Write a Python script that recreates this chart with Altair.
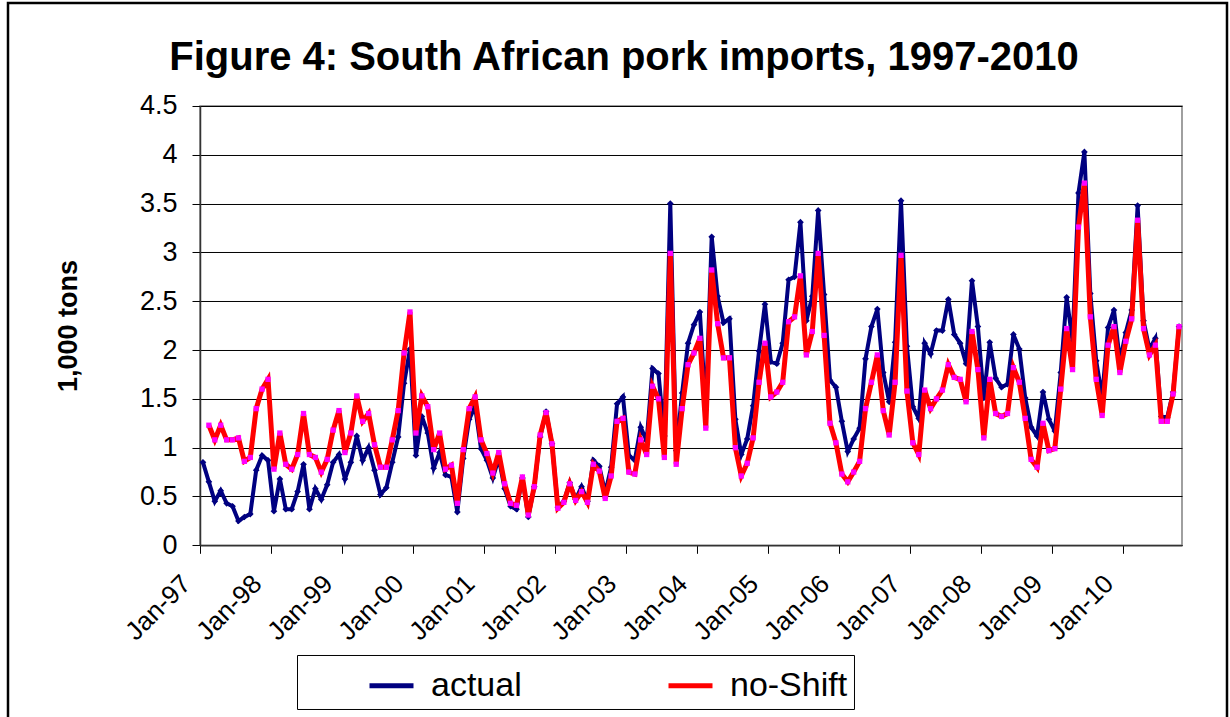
import json
import altair as alt
import pandas as pd

# ---- data (thousand tons), monthly Jan-97 .. Oct-10 ----
actual = [
    0.85, 0.65, 0.45, 0.56, 0.43, 0.40, 0.25, 0.29, 0.32, 0.77, 0.92, 0.87,
    0.35, 0.68, 0.37, 0.37, 0.55, 0.83, 0.37, 0.58, 0.47, 0.62, 0.85, 0.93,
    0.68, 0.85, 1.12, 0.87, 1.00, 0.77, 0.52, 0.59, 0.85, 1.11, 1.66, 2.01,
    0.92, 1.32, 1.15, 0.79, 0.95, 0.72, 0.70, 0.34, 0.89, 1.29, 1.42, 0.99,
    0.87, 0.69, 0.89, 0.58, 0.40, 0.37, 0.69, 0.29, 0.60, 1.11, 1.37, 1.04,
    0.39, 0.45, 0.64, 0.47, 0.60, 0.45, 0.87, 0.81, 0.54, 0.80, 1.45, 1.52,
    0.92, 0.87, 1.21, 1.07, 1.81, 1.76, 1.12, 3.50, 0.97, 1.56, 2.07, 2.26,
    2.39, 1.39, 3.16, 2.55, 2.28, 2.32, 1.29, 0.93, 1.09, 1.43, 1.99, 2.47,
    1.88, 1.86, 2.07, 2.72, 2.75, 3.31, 2.30, 2.55, 3.43, 2.57, 1.69, 1.62,
    1.27, 0.96, 1.09, 1.20, 1.91, 2.24, 2.42, 1.77, 1.47, 2.08, 3.53, 2.04,
    1.42, 1.30, 2.07, 1.96, 2.20, 2.20, 2.52, 2.16, 2.07, 1.86, 2.71, 2.24,
    1.51, 2.08, 1.71, 1.62, 1.65, 2.16, 2.01, 1.51, 1.21, 1.12, 1.57, 1.29,
    1.17, 1.77, 2.54, 2.09, 3.61, 4.03, 2.58, 1.89, 1.52, 2.23, 2.41, 1.89,
    2.18, 2.41, 3.48, 2.30, 2.01, 2.12, 1.32, 1.31, 1.57, 2.24,
]
# no-Shift series starts one month later (Feb-97)
no_shift = [
    1.23, 1.08, 1.23, 1.08, 1.08, 1.10, 0.86, 0.90, 1.40, 1.60, 1.70,
    0.78, 1.15, 0.83, 0.78, 0.93, 1.35, 0.93, 0.90, 0.75, 0.88, 1.18, 1.38,
    0.95, 1.15, 1.53, 1.27, 1.35, 1.03, 0.80, 0.80, 1.08, 1.38, 1.97, 2.39,
    1.15, 1.53, 1.42, 0.98, 1.15, 0.78, 0.82, 0.43, 0.98, 1.40, 1.52, 1.08,
    0.94, 0.74, 0.95, 0.63, 0.43, 0.41, 0.70, 0.31, 0.60, 1.13, 1.36, 1.04,
    0.38, 0.44, 0.63, 0.46, 0.55, 0.44, 0.83, 0.76, 0.48, 0.71, 1.27, 1.30,
    0.75, 0.73, 1.08, 0.93, 1.63, 1.50, 0.90, 2.99, 0.83, 1.40, 1.85, 1.97,
    2.12, 1.20, 2.82, 2.27, 1.92, 1.92, 1.00, 0.71, 0.84, 1.10, 1.67, 2.07,
    1.52, 1.57, 1.67, 2.29, 2.34, 2.76, 1.95, 2.19, 2.99, 2.15, 1.25, 1.05,
    0.73, 0.65, 0.75, 0.86, 1.40, 1.67, 1.95, 1.38, 1.13, 1.67, 2.97, 1.58,
    1.05, 0.93, 1.59, 1.40, 1.50, 1.59, 1.85, 1.72, 1.70, 1.47, 2.19, 1.80,
    1.10, 1.70, 1.35, 1.32, 1.35, 1.82, 1.67, 1.30, 0.88, 0.80, 1.25, 0.97,
    0.99, 1.60, 2.22, 1.80, 3.26, 3.71, 2.34, 1.70, 1.33, 2.05, 2.24, 1.77,
    2.09, 2.32, 3.33, 2.22, 1.95, 2.05, 1.27, 1.27, 1.55, 2.24,
]
tick_labels = ["Jan-97", "Jan-98", "Jan-99", "Jan-00", "Jan-01", "Jan-02", "Jan-03",
               "Jan-04", "Jan-05", "Jan-06", "Jan-07", "Jan-08", "Jan-09", "Jan-10"]
series_names = ["actual", "no-Shift"]
y_ticks = [0, 0.5, 1, 1.5, 2, 2.5, 3, 3.5, 4, 4.5]

rows = [{"m": i, "v": v, "series": "actual"} for i, v in enumerate(actual)]
rows += [{"m": i + 1, "v": v, "series": "no-Shift"} for i, v in enumerate(no_shift)]
df = pd.DataFrame(rows)

FONT = "Liberation Sans"
n_months = len(actual)

x_enc = alt.X(
    "m:Q",
    scale=alt.Scale(domain=[-0.5, n_months - 0.5], nice=False, zero=False),
    axis=alt.Axis(
        values=[12 * k - 0.5 for k in range(len(tick_labels))],
        labelExpr=json.dumps(tick_labels) + "[round((datum.value + 0.5) / 12)]",
        labelAngle=-45, labelAlign="right", labelBaseline="middle",
        labelFont=FONT, labelFontSize=26, labelColor="black",
        labelPadding=26, labelOffset=-14,
        tickSize=8, tickColor="black", domainColor="#333333", domainWidth=1.5,
        grid=False, title=None, labelOverlap=False,
    ),
)
y_enc = alt.Y(
    "v:Q",
    scale=alt.Scale(domain=[0, 4.5], nice=False),
    axis=alt.Axis(
        values=y_ticks, format="~g",
        labelFont=FONT, labelFontSize=27, labelColor="black", labelPadding=15,
        tickSize=8, tickColor="black", domainColor="#333333", domainWidth=1.5,
        grid=True, gridColor="black", gridWidth=1,
        title="1,000 tons", titleFont=FONT, titleFontSize=27, titleFontWeight="bold",
        titleColor="black", titleX=-132, titleY=219.6, titleAlign="center",
        titleBaseline="middle", titleAngle=-90,
    ),
)

PAD = "\u2003" * 2  # invisible trailing room so the legend frame matches the original width
color_scale = alt.Scale(domain=series_names, range=["#000080", "#FF0000"])
legend = alt.Legend(
    orient="none", legendX=97, legendY=549, direction="horizontal",
    title=None, symbolType="stroke", symbolStrokeWidth=5, symbolSize=1936,
    symbolOffset=64, labelOffset=15, labelFont=FONT, labelFontSize=34,
    labelColor="black", columnPadding=80, padding=6, labelLimit=400,
    labelExpr="datum.label + (indexof(datum.label, 'Shift') >= 0 ? '" + PAD + "' : '')",
    strokeColor="black", fillColor="white",
)

base = alt.Chart(df)

frame = alt.Chart(alt.Data(values=[{"a": 1}])).mark_rect(
    fill=None, stroke="black", strokeWidth=2.5
).encode(x=alt.value(-192), x2=alt.value(1027), y=alt.value(-103), y2=alt.value(640))

navy_line = base.transform_filter("datum.series == 'actual'").mark_line(
    strokeWidth=4
).encode(x=x_enc, y=y_enc, color=alt.Color("series:N", scale=color_scale, legend=legend))

navy_pts = base.transform_filter("datum.series == 'actual'").mark_point(
    shape="diamond", filled=True, size=45, color="#000080", opacity=1
).encode(x=x_enc, y=y_enc)

red_line = base.transform_filter("datum.series == 'no-Shift'").mark_line(
    strokeWidth=5
).encode(x=x_enc, y=y_enc, color=alt.Color("series:N", scale=color_scale, legend=legend))

red_pts = base.transform_filter("datum.series == 'no-Shift'").mark_square(
    size=28, color="#FF00FF", opacity=1
).encode(x=x_enc, y=y_enc)

chart = alt.layer(frame, navy_line, navy_pts, red_line, red_pts).properties(
    width=982, height=439.3,
    title=alt.TitleParams(
        "Figure 4: South African pork imports, 1997-2010",
        font=FONT, fontSize=40, fontWeight="bold", color="black",
        anchor="middle", dx=-67, offset=-108, baseline="alphabetic",
    ),
    autosize=alt.AutoSizeParams(type="none"),
    padding={"left": 200, "top": 106, "right": 48, "bottom": 172},
    background="white",
).configure_view(stroke="#808080", strokeWidth=1.5)

chart.save("out.html", embed_options={"renderer": "svg", "actions": False})
